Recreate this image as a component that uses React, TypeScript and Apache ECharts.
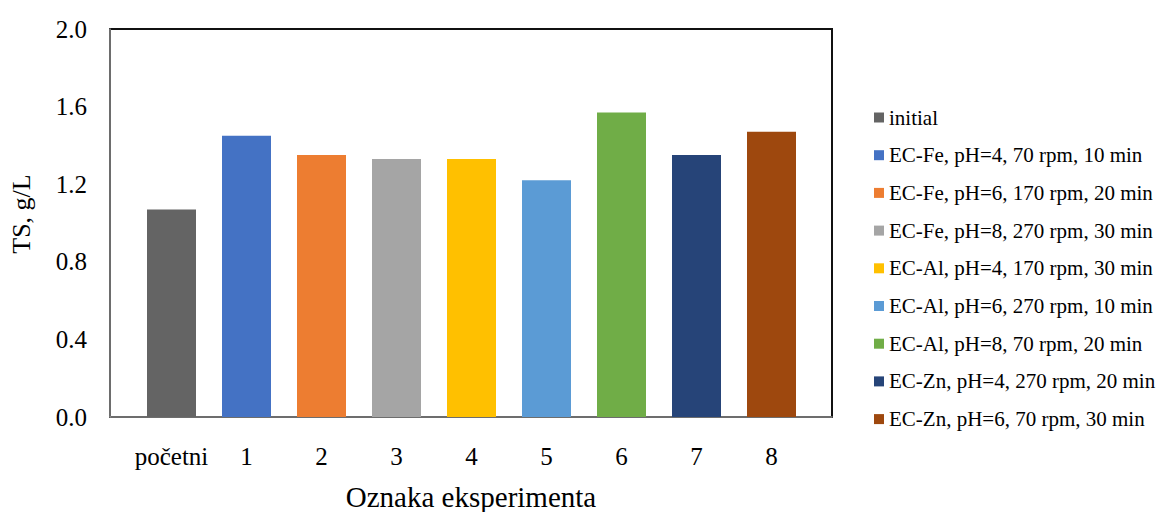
import React, { useEffect, useRef } from "react";
import * as echarts from "echarts";

const categories = ["početni", "1", "2", "3", "4", "5", "6", "7", "8"];
const seriesNames = [
  "initial",
  "EC-Fe, pH=4, 70 rpm, 10 min",
  "EC-Fe, pH=6, 170 rpm, 20 min",
  "EC-Fe, pH=8, 270 rpm, 30 min",
  "EC-Al, pH=4, 170 rpm, 30 min",
  "EC-Al, pH=6, 270 rpm, 10 min",
  "EC-Al, pH=8, 70 rpm, 20 min",
  "EC-Zn, pH=4, 270 rpm, 20 min",
  "EC-Zn, pH=6, 70 rpm, 30 min",
];
const values = [1.07, 1.45, 1.35, 1.33, 1.33, 1.22, 1.57, 1.35, 1.47];
const colors = [
  "#646464",
  "#4472C4",
  "#ED7D31",
  "#A5A5A5",
  "#FFC000",
  "#5B9BD5",
  "#70AD47",
  "#264478",
  "#9E480E",
];
const yTicks = { min: 0, max: 2.0, interval: 0.4 };

const FONT = "Liberation Serif";

export default function App() {
  const ref = useRef<HTMLDivElement>(null);
  useEffect(() => {
    if (!ref.current) return;
    const chart = echarts.init(ref.current, null, { renderer: "svg" });
    const series = seriesNames.map((name, i) => ({
      name,
      type: "bar",
      stack: "all",
      xAxisIndex: 1,
      yAxisIndex: 1,
      barWidth: 49,
      itemStyle: { color: colors[i] },
      data: values.map((v, j) => (j === i ? v : null)),
    }));
    chart.setOption({
      animation: false,
      backgroundColor: "#fff",
      textStyle: { fontFamily: FONT },
      grid: [
        {
          left: 110,
          right: 331,
          top: 29,
          bottom: 95,
          show: true,
          borderColor: "#111",
          borderWidth: 2,
          backgroundColor: "transparent",
          outerBoundsMode: "none",
          containLabel: false,
        },
        { left: 134, right: 354, top: 29, bottom: 95, outerBoundsMode: "none", containLabel: false },
      ],
      xAxis: [
        {
          gridIndex: 0,
          type: "value",
          min: 0,
          max: 1,
          axisLine: { show: true, onZero: false, lineStyle: { color: "#8c8c8c", width: 1.5 } },
          axisTick: { show: false },
          axisLabel: { show: false },
          splitLine: { show: false },
          name: "Oznaka eksperimenta",
          nameLocation: "middle",
          nameGap: 65,
          nameTextStyle: { fontFamily: FONT, fontSize: 29, color: "#000" },
        },
        {
          gridIndex: 1,
          type: "category",
          data: categories,
          axisLine: { show: false },
          axisTick: { show: false },
          axisLabel: { interval: 0, fontFamily: FONT, fontSize: 25, color: "#000", margin: 27 },
        },
      ],
      yAxis: [
        {
          gridIndex: 0,
          type: "value",
          ...yTicks,
          axisLine: { show: true, lineStyle: { color: "#8c8c8c", width: 1.5 } },
          axisTick: { show: false },
          splitLine: { show: false },
          axisLabel: {
            fontFamily: FONT,
            fontSize: 25,
            color: "#000",
            margin: 23,
            formatter: (v: number) => v.toFixed(1),
          },
          name: "TS, g/L",
          nameLocation: "middle",
          nameGap: 76,
          nameTextStyle: { fontFamily: FONT, fontSize: 26, color: "#000", padding: [0, 0, 0, 18] },
        },
        {
          gridIndex: 1,
          type: "value",
          ...yTicks,
          show: false,
          splitLine: { show: false },
        },
      ],
      legend: {
        orient: "vertical",
        left: 874,
        top: 107,
        padding: 0,
        itemWidth: 10,
        itemHeight: 10,
        itemGap: 16.7,
        icon: "rect",
        textStyle: { fontFamily: FONT, fontSize: 21, color: "#000", lineHeight: 20 },
        data: seriesNames,
      },
      series,
    });
    return () => chart.dispose();
  }, []);
  return (
    <div
      ref={ref}
      style={{ position: "fixed", left: 0, top: 0, width: 1163, height: 512, overflow: "hidden" }}
    />
  );
}
